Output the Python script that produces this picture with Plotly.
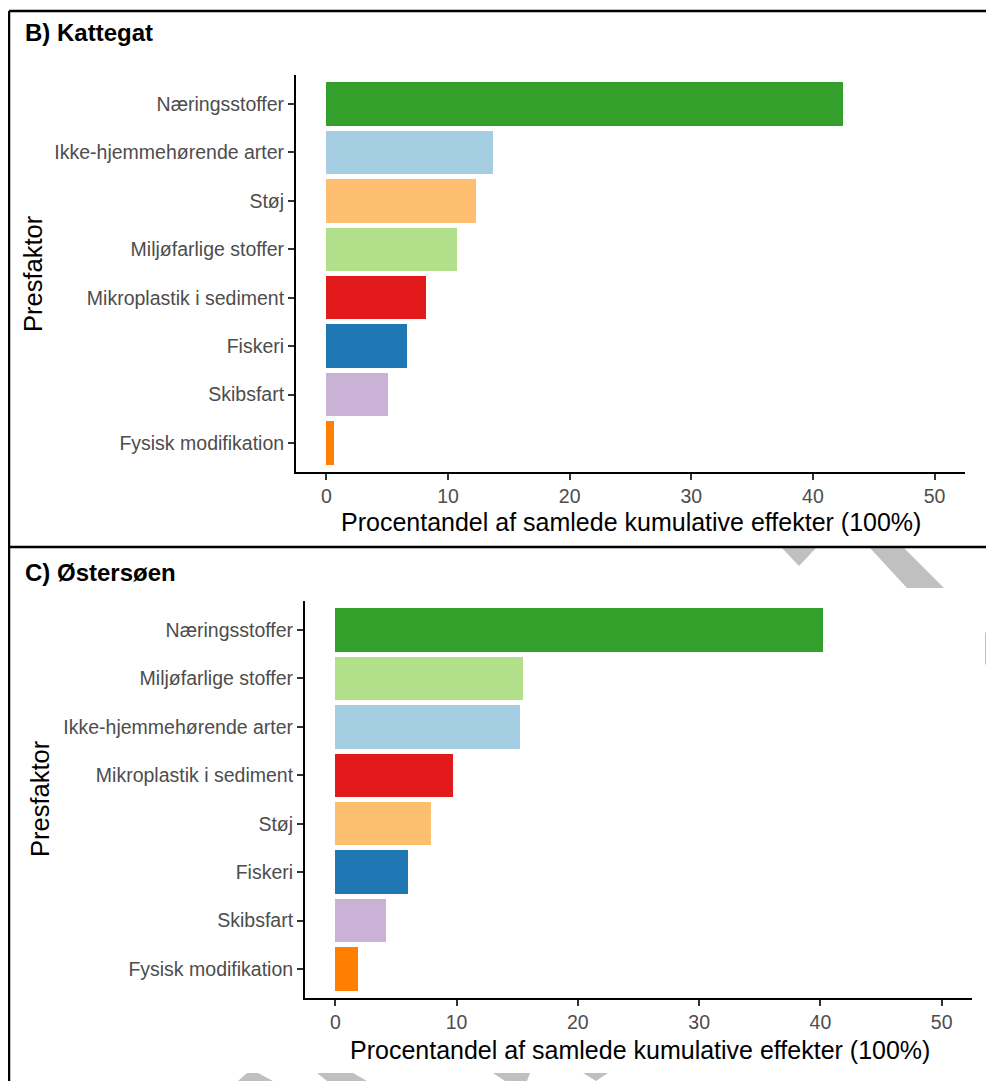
import plotly.graph_objects as go

# ---- data ----
kat_categories = ["Næringsstoffer", "Ikke-hjemmehørende arter", "Støj", "Miljøfarlige stoffer",
                  "Mikroplastik i sediment", "Fiskeri", "Skibsfart", "Fysisk modifikation"]
kat_values = [42.5, 13.7, 12.3, 10.7, 8.2, 6.6, 5.1, 0.6]

ost_categories = ["Næringsstoffer", "Miljøfarlige stoffer", "Ikke-hjemmehørende arter",
                  "Mikroplastik i sediment", "Støj", "Fiskeri", "Skibsfart", "Fysisk modifikation"]
ost_values = [40.2, 15.5, 15.2, 9.7, 7.9, 6.0, 4.2, 1.9]

x_ticks = [0, 10, 20, 30, 40, 50]

colors = {
    "Næringsstoffer": "#33A02C",
    "Ikke-hjemmehørende arter": "#A6CEE3",
    "Støj": "#FDBF6F",
    "Miljøfarlige stoffer": "#B2DF8A",
    "Mikroplastik i sediment": "#E31A1C",
    "Fiskeri": "#1F78B4",
    "Skibsfart": "#CAB2D6",
    "Fysisk modifikation": "#FF7F00",
}

# the page body has an 8px margin; figure fills the rest of the 994x1081 window
OFF = 8
W, H = 994 - OFF, 1081 - OFF
FONT = "Liberation Sans, Arial, sans-serif"


def X(px):
    return (px - OFF) / W


def Y(py):
    return 1 - (py - OFF) / H


fig = go.Figure()

fig.add_trace(go.Bar(
    x=kat_values, y=kat_categories, orientation="h", width=0.9,
    marker=dict(color=[colors[c] for c in kat_categories], line=dict(width=0)),
    xaxis="x", yaxis="y", showlegend=False, hoverinfo="x+y"))

fig.add_trace(go.Bar(
    x=ost_values, y=ost_categories, orientation="h", width=0.9,
    marker=dict(color=[colors[c] for c in ost_categories], line=dict(width=0)),
    xaxis="x2", yaxis="y2", showlegend=False, hoverinfo="x+y"))

xcommon = dict(range=[-2.5, 52.5], tickvals=x_ticks, showgrid=False, zeroline=False,
               showline=True, linecolor="black", linewidth=2,
               ticks="outside", ticklen=6, tickwidth=2, tickcolor="#333333",
               tickfont=dict(family=FONT, size=19.5, color="#4D4D4D"))
ycommon = dict(showgrid=False, zeroline=False, showline=True, linecolor="black", linewidth=2,
               ticks="outside", ticklen=6, tickwidth=2, tickcolor="#333333",
               tickfont=dict(family=FONT, size=19.5, color="#4D4D4D"),
               range=[-0.6, 7.6])

fig.update_layout(
    width=W, height=H,
    margin=dict(l=0, r=0, t=0, b=0),
    paper_bgcolor="white", plot_bgcolor="white",
    bargap=0,
    xaxis=dict(domain=[X(296), X(965)], anchor="y", **xcommon),
    yaxis=dict(domain=[Y(472), Y(75)], anchor="x", categoryorder="array",
               categoryarray=list(reversed(kat_categories)), **ycommon),
    xaxis2=dict(domain=[X(305), X(972)], anchor="y2", **xcommon),
    yaxis2=dict(domain=[Y(998), Y(601)], anchor="x2", categoryorder="array",
                categoryarray=list(reversed(ost_categories)), **ycommon),
)

ann = []
ann.append(dict(text="<b>B) Kattegat</b>", x=X(23), y=Y(33), xref="paper", yref="paper",
                xanchor="left", yanchor="middle", showarrow=False,
                font=dict(family=FONT, size=24, color="black")))
ann.append(dict(text="<b>C) Østersøen</b>", x=X(23), y=Y(572), xref="paper", yref="paper",
                xanchor="left", yanchor="middle", showarrow=False,
                font=dict(family=FONT, size=24, color="black")))
for cx, cy in [(631, 522), (640, 1050)]:
    ann.append(dict(text="Procentandel af samlede kumulative effekter (100%)", x=X(cx), y=Y(cy),
                    xref="paper", yref="paper", xanchor="center", yanchor="middle",
                    showarrow=False, font=dict(family=FONT, size=25, color="black")))
for cx, cy in [(33, 274), (40, 799)]:
    ann.append(dict(text="Presfaktor", x=X(cx), y=Y(cy), xref="paper", yref="paper",
                    xanchor="center", yanchor="middle", textangle=-90,
                    showarrow=False, font=dict(family=FONT, size=25.5, color="black")))
fig.update_layout(annotations=ann)

shapes = []
# panel borders
for x0, y0, x1, y1 in [(9, 11, 994, 11), (9, 11, 9, 1081), (9, 547, 994, 547)]:
    shapes.append(dict(type="line", xref="paper", yref="paper",
                       x0=X(x0), y0=Y(y0), x1=X(x1), y1=Y(y1),
                       line=dict(color="black", width=2.5)))

# watermark fragments
wm_polys = [
    [(782, 548), (816, 548), (799, 566)],
    [(870, 548), (904, 548), (944, 588), (907, 588)],
    [(985, 632), (994, 640), (994, 672), (985, 664)],
    [(247, 1073), (258, 1073), (273, 1081), (238, 1081)],
    [(317, 1073), (353, 1073), (367, 1081), (327, 1081)],
    [(493, 1073), (530, 1073), (527, 1081), (505, 1081)],
    [(583, 1073), (608, 1073), (596, 1081)],
]
for poly in wm_polys:
    path = "M " + " L ".join(f"{X(px):.5f},{Y(py):.5f}" for px, py in poly) + " Z"
    shapes.append(dict(type="path", xref="paper", yref="paper", path=path,
                       fillcolor="#C0C0C0", line=dict(width=0), layer="below"))

fig.update_layout(shapes=shapes)

fig.write_html("out.html")
